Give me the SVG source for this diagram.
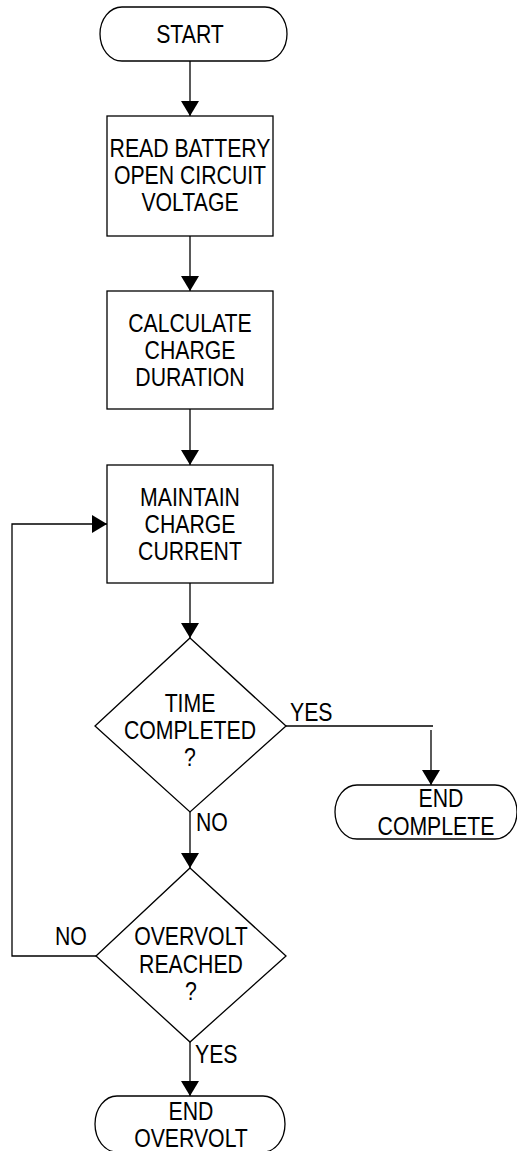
<svg xmlns="http://www.w3.org/2000/svg" width="517" height="1151" viewBox="0 0 517 1151">
<style>
.s{fill:#fff;stroke:#000;stroke-width:1.3}
.c{fill:none;stroke:#000;stroke-width:1.3}
.t{font-family:"Liberation Sans",Arial,sans-serif;font-size:25px;fill:#000;text-anchor:middle;transform-box:fill-box;transform-origin:center;transform:scaleX(0.85)}
.l{font-family:"Liberation Sans",Arial,sans-serif;font-size:25px;fill:#000;text-anchor:start;transform-box:fill-box;transform-origin:0 50%;transform:scaleX(0.85)}
</style>
<defs>
<marker id="ah" markerUnits="userSpaceOnUse" viewBox="0 0 15 18" refX="15" refY="9" markerWidth="15" markerHeight="18" orient="auto">
<path d="M0,0 L15,9 L0,18 Z" fill="#000"/>
</marker>
</defs>
<rect width="517" height="1151" fill="#fff"/>
<g id="connectors">
<path class="c" d="M190,61 V116" marker-end="url(#ah)"/>
<path class="c" d="M190,236 V291" marker-end="url(#ah)"/>
<path class="c" d="M190,409 V465" marker-end="url(#ah)"/>
<path class="c" d="M190,583 V638" marker-end="url(#ah)"/>
<path class="c" d="M286,726 H433"/>
<path class="c" d="M431,730 V785" marker-end="url(#ah)"/>
<path class="c" d="M190,812 V868" marker-end="url(#ah)"/>
<path class="c" d="M96,956 H12 V524 H107" marker-end="url(#ah)"/>
<path class="c" d="M190,1042 V1096" marker-end="url(#ah)"/>
<text class="l" x="290" y="721">YES</text>
<text class="l" x="196" y="831">NO</text>
<text class="l" x="55" y="945">NO</text>
<text class="l" x="195" y="1063">YES</text>
</g>
<g id="start">
<rect class="s" x="100" y="7" width="187" height="54" rx="22" ry="27"/>
<text class="t" x="190" y="43">START</text>
</g>
<g id="read">
<rect class="s" x="107" y="116" width="166" height="120"/>
<text class="t" x="190" y="157">READ BATTERY</text>
<text class="t" x="190" y="184">OPEN CIRCUIT</text>
<text class="t" x="190" y="211">VOLTAGE</text>
</g>
<g id="calculate">
<rect class="s" x="107" y="291" width="166" height="118"/>
<text class="t" x="190" y="332">CALCULATE</text>
<text class="t" x="190" y="359">CHARGE</text>
<text class="t" x="190" y="386">DURATION</text>
</g>
<g id="maintain">
<rect class="s" x="107" y="465" width="166" height="118"/>
<text class="t" x="190" y="506">MAINTAIN</text>
<text class="t" x="190" y="533">CHARGE</text>
<text class="t" x="190" y="560">CURRENT</text>
</g>
<g id="time">
<polygon class="s" points="190,638 286,726 190,812 95,726"/>
<text class="t" x="190" y="712">TIME</text>
<text class="t" x="190" y="739">COMPLETED</text>
<text class="t" x="190" y="766">?</text>
</g>
<g id="endcomplete">
<rect class="s" x="335" y="785" width="182" height="54" rx="22" ry="27"/>
<text class="t" x="441" y="807">END</text>
<text class="t" x="436" y="835">COMPLETE</text>
</g>
<g id="overvolt">
<polygon class="s" points="190,868 286,956 190,1042 96,956"/>
<text class="t" x="191" y="945">OVERVOLT</text>
<text class="t" x="191" y="973">REACHED</text>
<text class="t" x="191" y="1000">?</text>
</g>
<g id="endovervolt">
<rect class="s" x="95" y="1096" width="190" height="56" rx="22" ry="28"/>
<text class="t" x="191" y="1120">END</text>
<text class="t" x="191" y="1147">OVERVOLT</text>
</g>
</svg>
